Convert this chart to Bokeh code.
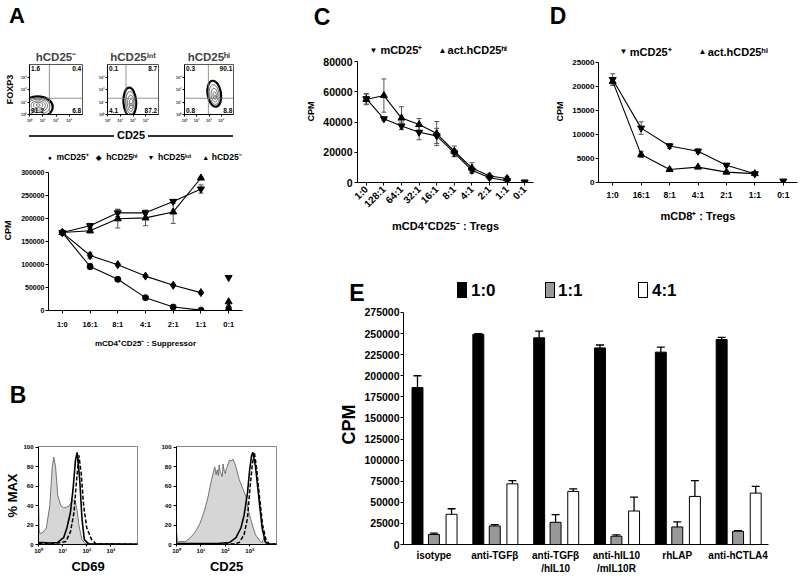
import math
from bokeh.plotting import figure
from bokeh.models import (ColumnDataSource, Whisker, TeeHead, Label, FixedTicker,
                          Range1d, Div, Span, BasicTickFormatter)
from bokeh.layouts import row, column
from bokeh.embed import file_html
from bokeh.resources import INLINE

FONT = "Liberation Sans"

# ============================ data ============================
# A - flow cytometry insets (axes in log10 decades)
flow_titles = ["hCD25⁻", "hCD25ⁱⁿᵗ", "hCD25ʰⁱ"]
flow_q_ul = ["1.6", "0.1", "0.3"]
flow_q_ur = ["0.4", "8.7", "90.1"]
flow_q_ll = ["91.2", "4.1", "0.8"]
flow_q_lr = ["6.8", "87.2", "8.8"]
flow_gate_x = [1.5, 1.45, 1.95]
flow_gate_y = [1.3, 1.3, 1.3]
flow_ticks = ["10⁰", "10¹", "10²", "10³"]
# contour levels, outer -> inner
flow_cx = [[0.6, 0.6, 0.62, 0.65, 0.65, 0.65], [1.75, 1.8, 1.82, 1.85, 1.85], [2.43, 2.43, 2.45, 2.47, 2.48]]
flow_cy = [[0.6, 0.65, 0.7, 0.72, 0.75, 0.75], [1.0, 0.95, 0.9, 0.85, 0.8], [1.66, 1.6, 1.55, 1.5, 1.45]]
flow_w = [[2.3, 1.9, 1.5, 1.1, 0.7, 0.3], [1.0, 0.75, 0.5, 0.3, 0.12], [1.1, 0.8, 0.55, 0.3, 0.12]]
flow_h = [[1.7, 1.35, 1.05, 0.75, 0.45, 0.2], [2.3, 1.8, 1.3, 0.8, 0.3], [2.1, 1.6, 1.1, 0.6, 0.2]]
flow_tilt = [[0, 0, 0, 0, 0, 0], [0.05, 0.05, 0, 0, 0], [0.15, 0.15, 0.12, 0.1, 0.1]]

# A - suppression assay
A_ratio = ["1:0", "16:1", "8:1", "4:1", "2:1", "1:1", "0:1"]
A_names = ["mCD25⁺", "hCD25ʰⁱ", "hCD25ⁱⁿᵗ", "hCD25⁻"]
A_m25 = [170000, 96000, 68000, 28000, 7500, 800]
A_m25_err = [3000, 6000, 2000, 2000, 1500, 500]
A_hi = [170000, 120000, 100000, 75000, 55000, 39000]
A_hi_err = [3000, 7000, 2500, 3000, 2500, 2500]
A_int = [170000, 185000, 213000, 213000, 238000, 265000]
A_int_err = [3000, 5000, 8000, 4000, 4000, 9000]
A_neg = [170000, 174000, 200000, 202000, 215000, 289000]
A_neg_err = [3000, 5000, 20000, 17000, 25000, 2000]
A_alone = [500, 7000, 72000, 19000]   # 0:1 wells (same series order)

# B - histograms (fluorescence, % max)
B69_iso_x = [1, 1.01, 1.06, 1.17, 1.6, 2.1, 2.95, 3.7, 4.3, 5.1, 6.3, 8.5, 11, 13.5, 18.6, 25, 32, 40, 47, 63, 85, 150, 12600]
B69_iso_y = [0, 38, 14, 11, 13, 17, 40, 80, 90, 80, 50, 40, 38, 38, 40, 45, 46, 35, 20, 5, 1, 0.5, 0.5]
B69_a_x = [1, 1.5, 3, 6, 11, 15, 21, 27, 34, 40, 51, 63, 79, 120, 12600]
B69_a_y = [2, 2, 1.5, 2, 7, 17, 33, 57, 87, 95, 67, 27, 5, 0.7, 0.3]
B69_b_x = [1, 5, 13.5, 21, 29.5, 36, 47, 59, 74, 100, 158, 250, 12600]
B69_b_y = [1, 1, 3, 13, 33, 60, 92, 73, 40, 17, 5, 0.5, 0.3]
B25_iso_x = [1, 1.01, 1.1, 2.3, 3.7, 5.9, 9.3, 14.8, 20, 27.5, 37, 42, 47, 52, 56, 62, 68, 75, 81, 90,
             100, 110, 120, 135, 148, 175, 204, 240, 275, 372, 513, 692, 933, 1290, 1740, 2750, 3300, 3720, 4500, 12600]
B25_iso_y = [0, 12, 3, 3, 7, 13, 22, 37, 50, 67, 80, 72, 77, 71, 82, 75, 73, 70, 83, 76,
             73, 78, 80, 84, 87, 86, 88, 84, 80, 67, 58, 50, 33, 20, 10, 3, 2, 7, 1, 0.5]
B25_a_x = [1, 50, 148, 275, 437, 589, 813, 1000, 1200, 1350, 1740, 2340, 3240, 4370, 5890, 12600]
B25_a_y = [1, 1, 2, 7, 17, 30, 53, 77, 92, 95, 80, 50, 17, 3, 0.5, 0.3]
B25_b_x = [1, 200, 372, 589, 813, 1020, 1290, 1550, 1900, 2510, 3390, 4680, 6300, 12600]
B25_b_y = [0.5, 0.5, 2, 10, 27, 57, 83, 95, 80, 50, 20, 5, 0.5, 0.3]
B_ticks = ["10⁰", "10¹", "10²", "10³"]

# C
C_ratio = ["1:0", "128:1", "64:1", "32:1", "16:1", "8:1", "4:1", "2:1", "1:1", "0:1"]
C_names = ["mCD25⁺", "act.hCD25ʰⁱ"]
C_m25 = [55500, 42200, 37500, 33300, 30900, 19600, 8100, 3200, 1200]
C_m25_err = [3500, 1000, 2500, 5000, 5000, 2500, 1500, 1000, 1000]
C_act = [55000, 57600, 42700, 38400, 32400, 20700, 9600, 4300, 2600]
C_act_err = [3500, 11000, 7500, 4000, 8000, 3500, 3500, 1500, 1500]
C_alone = 300
C_alone_err = 1200

# D
D_ratio = ["1:0", "16:1", "8:1", "4:1", "2:1", "1:1", "0:1"]
D_names = ["mCD25⁺", "act.hCD25ʰⁱ"]
D_m25 = [21400, 11300, 7600, 6500, 3600, 1800]
D_m25_err = [1200, 1300, 500, 500, 300, 300]
D_act = [21000, 5800, 2700, 3200, 2150, 1850]
D_act_err = [800, 600, 300, 200, 200, 200]
D_alone = 300
D_alone_err = 300

# E
E_groups = ["isotype", "anti-TGFβ", "anti-TGFβ\n/hIL10", "anti-hIL10\n/mIL10R", "rhLAP", "anti-hCTLA4"]
E_series = ["1:0", "1:1", "4:1"]
E_10 = [186000, 249000, 245000, 233000, 228000, 243000]
E_10_err = [14000, 1000, 8000, 3500, 6000, 2500]
E_11 = [11800, 22000, 26300, 9800, 20800, 15700]
E_11_err = [1600, 1600, 9100, 1600, 5900, 800]
E_41 = [35800, 71900, 62900, 39700, 57000, 60900]
E_41_err = [6600, 3900, 3100, 16500, 18800, 7900]
E_fill = ["black", "#999999", "white"]

# ============================ helpers ============================
def fs(v):
    return f"{v:.1f}px"


def mkfig(x0, x1, y0, y1, fl, fr, ft, fb, xr, yr, **kw):
    p = figure(width=x1 - x0, height=y1 - y0,
               min_border_left=fl - x0, min_border_right=x1 - fr,
               min_border_top=ft - y0, min_border_bottom=y1 - fb,
               x_range=xr, y_range=yr, toolbar_location=None,
               output_backend="svg", **kw)
    p.xgrid.visible = False
    p.ygrid.visible = False
    p.outline_line_color = None
    return p


def style(ax, tsize, lsize=9, tick_out=3, std=2, lstd=4, lw=1):
    ax.major_label_text_font = FONT
    ax.major_label_text_font_style = "bold"
    ax.major_label_text_font_size = fs(tsize)
    ax.major_label_text_color = "black"
    ax.axis_label_text_font = FONT
    ax.axis_label_text_font_style = "bold"
    ax.axis_label_text_font_size = fs(lsize)
    ax.axis_label_text_color = "black"
    ax.major_tick_out = tick_out
    ax.major_tick_in = 0
    ax.minor_tick_line_color = None
    ax.major_label_standoff = std
    ax.axis_label_standoff = lstd
    ax.axis_line_width = lw
    ax.major_tick_line_width = lw
    ax.axis_line_color = "black"
    ax.major_tick_line_color = "black"


def band(width, height, texts, rects=()):
    """A strip of the page holding panel letters / legend keys, positioned in px."""
    parts = [f'<div style="position:relative;width:{width}px;height:{height}px;'
             f'font-family:\'{FONT}\';font-weight:bold;color:black">']
    for (x, y, w, h, col) in rects:
        parts.append(f'<div style="position:absolute;left:{x}px;top:{y}px;width:{w}px;height:{h}px;'
                     f'box-sizing:border-box;background:{col};border:1.2px solid black"></div>')
    for (x, y, txt, size, anchor) in texts:
        tx = "-50%" if anchor == "center" else "0"
        parts.append(f'<div style="position:absolute;left:{x}px;top:{y}px;transform:translate({tx},-50%);'
                     f'font-size:{size}px;line-height:1;white-space:nowrap">{txt}</div>')
    parts.append("</div>")
    return Div(text="".join(parts), width=width, height=height, margin=0)


def dtext(p, x, y, txt, size, align="left", baseline="middle", bold=True):
    p.add_layout(Label(x=x, y=y, text=txt, text_font=FONT,
                       text_font_style="bold" if bold else "normal",
                       text_font_size=fs(size), text_align=align, text_baseline=baseline,
                       text_color="black"))


def errbars(p, xs, ys, es, head=5, color="#555", upper_only=False, lw=1):
    src = ColumnDataSource(dict(x=xs, lo=[y if upper_only else y - e for y, e in zip(ys, es)],
                                hi=[y + e for y, e in zip(ys, es)]))
    w = Whisker(source=src, base="x", lower="lo", upper="hi", dimension="height",
                line_color=color, line_width=lw,
                upper_head=TeeHead(size=head, line_color=color, line_width=lw),
                lower_head=None if upper_only else TeeHead(size=head, line_color=color, line_width=lw))
    p.add_layout(w)


def series(p, ys, errs, marker, size, head=5):
    xs = list(range(len(ys)))
    errbars(p, xs, ys, errs, head=head)
    p.line(xs, ys, line_color="black", line_width=1.1)
    p.scatter(xs, ys, marker=marker, size=size, color="black")


def cat_axis(ax, labels):
    ax.ticker = FixedTicker(ticks=list(range(len(labels))))
    ax.major_label_overrides = {i: s for i, s in enumerate(labels)}


def num_axis(ax, top, step):
    ax.ticker = FixedTicker(ticks=list(range(0, top + 1, step)))
    ax.formatter = BasicTickFormatter(use_scientific=False)
    ax.bounds = (0, top)


# ============================ A : letter band + flow insets ============================
bandA = band(280, 35, [(17, 16, "A", 22, "center")])

flow_geo = [(0, 95, 29, 82), (95, 172, 105, 158), (172, 280, 182, 233)]
flows = []
for i, (x0, x1, fl, fr) in enumerate(flow_geo):
    p = mkfig(x0, x1, 35, 125, fl, fr, 64, 116, Range1d(0, 4), Range1d(0, 4), title=flow_titles[i])
    p.outline_line_color = "#555"
    p.title.align = "center"
    p.title.text_font = FONT
    p.title.text_font_style = "bold"
    p.title.text_font_size = fs(11.5)
    p.title.standoff = 3
    for ax in (p.xaxis, p.yaxis):
        style(ax, 4, 9, tick_out=2, std=1, lstd=3)
        ax.ticker = FixedTicker(ticks=list(range(len(flow_ticks))))
        ax.major_label_overrides = {k: s for k, s in enumerate(flow_ticks)}
        ax.major_label_text_color = "#333"
    if i == 0:
        p.yaxis.axis_label = "FOXP3"
    p.add_layout(Span(location=flow_gate_x[i], dimension="height", line_color="#777", line_width=0.8))
    p.add_layout(Span(location=flow_gate_y[i], dimension="width", line_color="#777", line_width=0.8))
    n = len(flow_cx[i])
    p.ellipse(x=flow_cx[i], y=flow_cy[i], width=flow_w[i], height=flow_h[i], angle=flow_tilt[i],
              fill_color=None, line_color=["black"] + ["#555"] * (n - 1),
              line_width=[2.2] + [0.8] * (n - 1))
    dtext(p, 0.12, 3.72, flow_q_ul[i], 6.5)
    dtext(p, 3.9, 3.72, flow_q_ur[i], 6.5, align="right")
    dtext(p, 0.12, 0.3, flow_q_ll[i], 6.5)
    dtext(p, 3.9, 0.3, flow_q_lr[i], 6.5, align="right")
    flows.append(p)

cd25 = Div(text=(f'<div style="display:flex;align-items:center;margin-left:29px;'
                 f'width:204px;height:15px;font-family:\'{FONT}\';'
                 f'font-weight:bold;font-size:11px;color:black">'
                 '<div style="flex:1;height:0;border-top:2px solid #333"></div>'
                 '<div style="padding:0 3px">CD25</div>'
                 '<div style="flex:1;height:0;border-top:2px solid #333"></div></div>'),
           width=280, height=15, margin=0)

# ============================ A : suppression ============================
pA = mkfig(0, 280, 140, 350, 47, 242, 150, 314, Range1d(-0.5, 6.5), Range1d(0, 349000))
style(pA.xaxis, 7.5, 8, tick_out=3, std=6, lstd=7)
style(pA.yaxis, 7, 9, tick_out=3, std=1, lstd=5)
cat_axis(pA.xaxis, A_ratio)
num_axis(pA.yaxis, 300000, 50000)
pA.xaxis.axis_label = "mCD4⁺CD25⁻ : Suppressor"
pA.yaxis.axis_label = "CPM"
A_markers = ["circle", "diamond", "inverted_triangle", "triangle"]
A_sizes = [6, 8, 7, 7]
for ys, es, mk, sz in zip([A_m25, A_hi, A_int, A_neg], [A_m25_err, A_hi_err, A_int_err, A_neg_err],
                          A_markers, A_sizes):
    series(pA, ys, es, mk, sz)
pA.scatter([len(A_ratio) - 1] * len(A_alone), A_alone, marker=A_markers, size=A_sizes, color="black")
A_sym = ["●", "◆", "▼", "▲"]
A_leg_m = [-0.46, 1.3, 3.2, 5.17]
A_leg_t = [-0.21, 1.58, 3.45, 5.39]
for s, nm, xm, xt in zip(A_sym, A_names, A_leg_m, A_leg_t):
    dtext(pA, xm, 334000, s, 7, align="center")
    dtext(pA, xt, 334000, nm, 8.5)

# ============================ B : histograms ============================
bandB = band(280, 70, [(18, 45, "B", 23, "center")])


def hist(x0, x1, fl, fr, iso, a, b, xlabel, ylabel=None):
    p = mkfig(x0, x1, 420, 576, fl, fr, 446, 547, Range1d(1, 12600), Range1d(0, 101), x_axis_type="log")
    p.outline_line_color = "#888"
    style(p.xaxis, 6, 13, tick_out=2, std=1, lstd=2)
    style(p.yaxis, 6, 13, tick_out=3, std=2, lstd=0)
    p.xaxis.ticker = FixedTicker(ticks=[1, 10, 100, 1000])
    p.xaxis.major_label_overrides = {1: B_ticks[0], 10: B_ticks[1], 100: B_ticks[2], 1000: B_ticks[3]}
    p.yaxis.ticker = FixedTicker(ticks=[0, 20, 40, 60, 80, 100])
    p.xaxis.axis_label = xlabel
    if ylabel:
        p.yaxis.axis_label = ylabel
    p.varea(x=iso[0], y1=0, y2=iso[1], fill_color="#d6d6d6")
    p.line(iso[0], iso[1], line_color="#666", line_width=0.9)
    p.line(a[0], a[1], line_color="black", line_width=1.6)
    p.line(b[0], b[1], line_color="black", line_width=1.5, line_dash="4 2")
    return p


pB1 = hist(0, 150, 38, 137, (B69_iso_x, B69_iso_y), (B69_a_x, B69_a_y), (B69_b_x, B69_b_y), "CD69", "% MAX")
pB2 = hist(150, 280, 176, 276, (B25_iso_x, B25_iso_y), (B25_a_x, B25_a_y), (B25_b_x, B25_b_y), "CD25")

# ============================ C / D ============================
bandCD = band(520, 35, [(42, 17, "C", 23, "center"), (278, 16, "D", 23, "center")])

pC = mkfig(280, 540, 35, 235, 357, 533, 40, 187, Range1d(-0.5, 9.5), Range1d(0, 94080))
style(pC.xaxis, 10, 11, tick_out=3, std=2, lstd=4)
style(pC.yaxis, 10.5, 9, tick_out=3, std=2, lstd=4)
cat_axis(pC.xaxis, C_ratio)
pC.xaxis.major_label_orientation = math.pi / 4
num_axis(pC.yaxis, 80000, 20000)
pC.xaxis.axis_label = "mCD4⁺CD25⁻ : Tregs"
pC.yaxis.axis_label = "CPM"
series(pC, C_act, C_act_err, "triangle", 7)
series(pC, C_m25, C_m25_err, "inverted_triangle", 7)
errbars(pC, [len(C_ratio) - 1], [C_alone], [C_alone_err])
pC.scatter([len(C_ratio) - 1], [C_alone], marker="inverted_triangle", size=7, color="black")
dtext(pC, 0.41, 87700, "▼", 8, align="center")
dtext(pC, 0.8, 87700, C_names[0], 11)
dtext(pC, 4.33, 87700, "▲", 8, align="center")
dtext(pC, 4.62, 87700, C_names[1], 11)

pD = mkfig(540, 800, 35, 235, 598, 797, 40, 191, Range1d(-0.5, 6.5), Range1d(0, 29500))
style(pD.xaxis, 8.5, 11, tick_out=3, std=4, lstd=7)
style(pD.yaxis, 8, 9, tick_out=3, std=1, lstd=4)
cat_axis(pD.xaxis, D_ratio)
num_axis(pD.yaxis, 25000, 5000)
pD.xaxis.axis_label = "mCD8⁺ : Tregs"
pD.yaxis.axis_label = "CPM"
series(pD, D_act, D_act_err, "triangle", 7)
series(pD, D_m25, D_m25_err, "inverted_triangle", 7)
errbars(pD, [len(D_ratio) - 1], [D_alone], [D_alone_err])
pD.scatter([len(D_ratio) - 1], [D_alone], marker="inverted_triangle", size=7, color="black")
dtext(pD, 0.38, 27150, "▼", 8, align="center")
dtext(pD, 0.6, 27150, D_names[0], 11)
dtext(pD, 3.16, 27150, "▲", 8, align="center")
dtext(pD, 3.34, 27150, D_names[1], 11)

# ============================ E ============================
E_leg_rect_x = [177, 265, 358]
E_leg_text_x = [191, 278, 372]
bandE = band(520, 68,
             [(77, 58, "E", 23, "center")] + [(x, 55, s, 17, "left") for x, s in zip(E_leg_text_x, E_series)],
             [(x, 47, 10, 16, c) for x, c in zip(E_leg_rect_x, E_fill)])

pE = mkfig(280, 800, 303, 576, 403, 768, 304, 544, Range1d(0, len(E_groups)), Range1d(0, 284480))
style(pE.xaxis, 10, 11, tick_out=0, std=5, lstd=2)
style(pE.yaxis, 10.5, 18, tick_out=3, std=1, lstd=2)
centers = [i + 0.5 for i in range(len(E_groups))]
pE.xaxis.ticker = FixedTicker(ticks=centers)
pE.xaxis.major_label_overrides = {c: g for c, g in zip(centers, E_groups)}
pE.xaxis.major_tick_line_color = None
num_axis(pE.yaxis, 275000, 25000)
pE.yaxis.axis_label = "CPM"
E_off = [-0.27, 0.0, 0.29]
for vals, errs, off, fc in zip([E_10, E_11, E_41], [E_10_err, E_11_err, E_41_err], E_off, E_fill):
    xs = [c + off for c in centers]
    errbars(pE, xs, vals, errs, head=8, color="black", upper_only=True, lw=1.3)
    pE.vbar(x=xs, top=vals, width=0.18, fill_color=fc, line_color="black", line_width=1)

# ============================ layout ============================
left = column(bandA, row(*flows), cd25, pA, bandB, row(pB1, pB2))
right = column(bandCD, row(pC, pD), bandE, pE)
page = row(left, right)
open("out.html", "w").write(file_html(page, INLINE, title="Figure"))
